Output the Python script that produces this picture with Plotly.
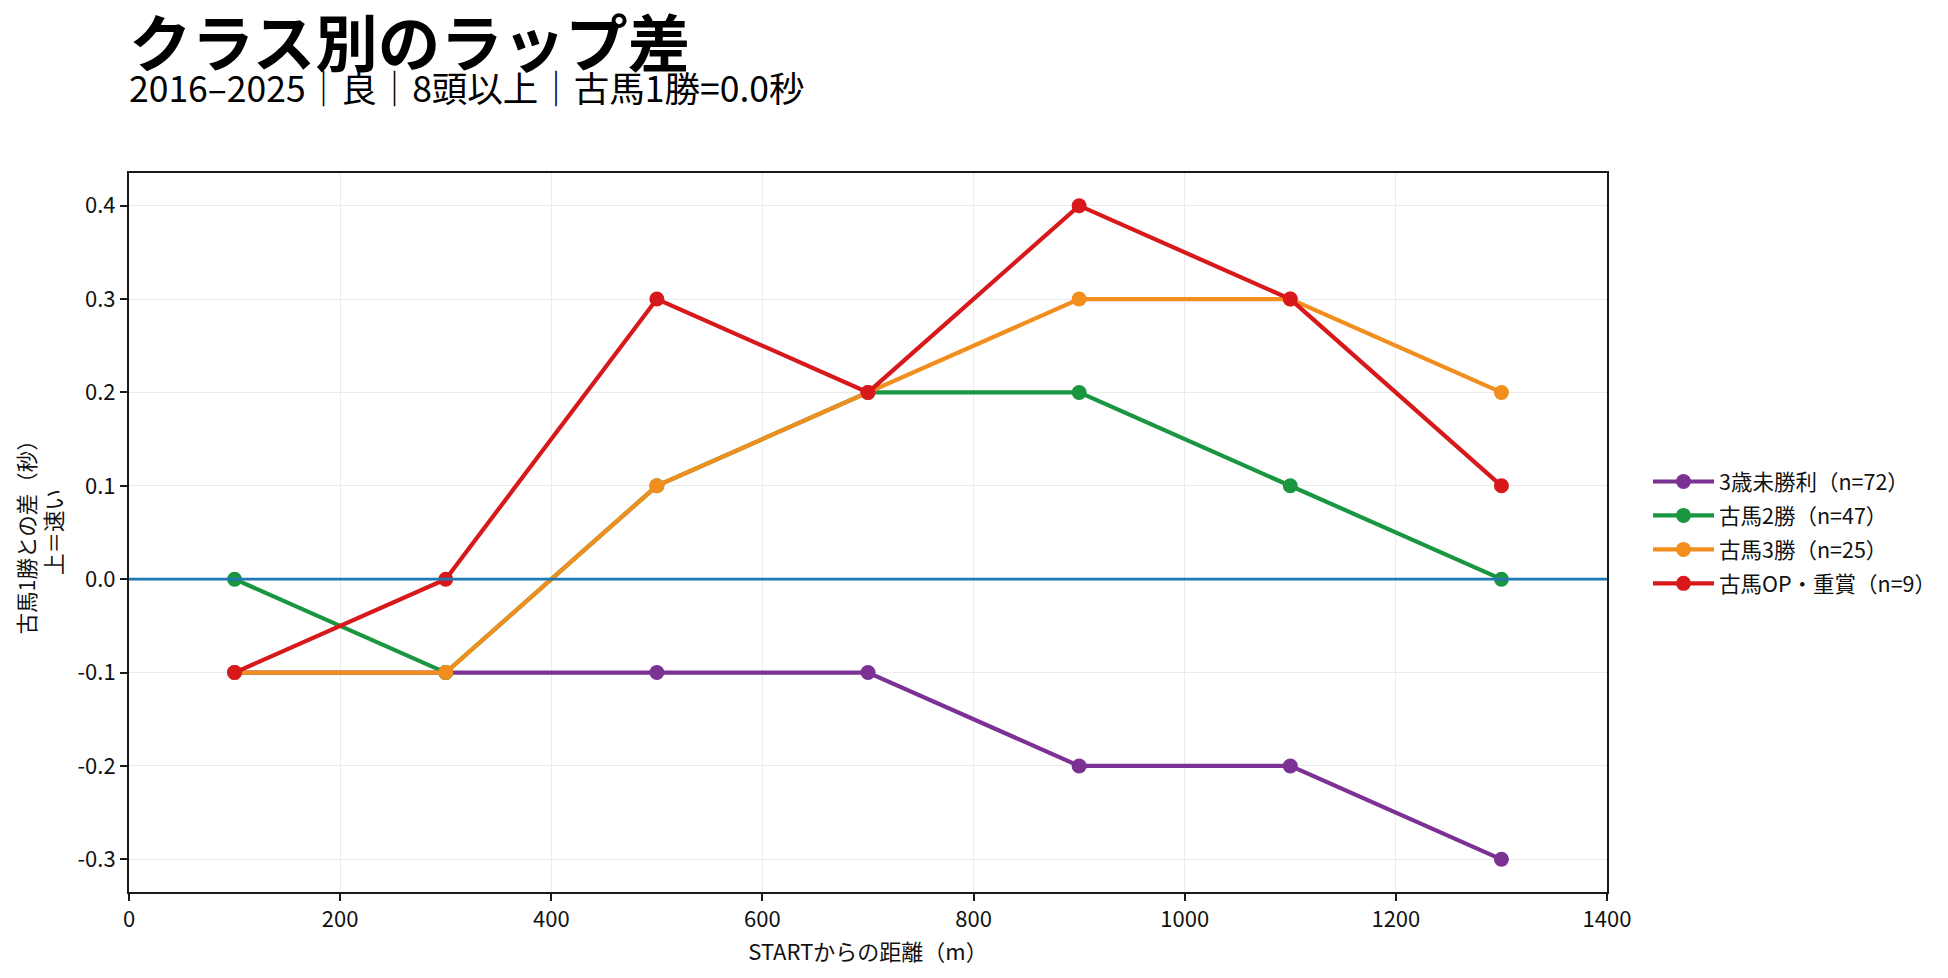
import plotly.graph_objects as go

distances = [100, 300, 500, 700, 900, 1100, 1300]
series_names = ["3歳未勝利（n=72）", "古馬2勝（n=47）", "古馬3勝（n=25）", "古馬OP・重賞（n=9）"]
maiden3 = [-0.1, -0.1, -0.1, -0.1, -0.2, -0.2, -0.3]
win2 = [0.0, -0.1, 0.1, 0.2, 0.2, 0.1, 0.0]
win3 = [-0.1, -0.1, 0.1, 0.2, 0.3, 0.3, 0.2]
op_graded = [-0.1, 0.0, 0.3, 0.2, 0.4, 0.3, 0.1]
colors = ["#7B3294", "#1A9641", "#F28E1E", "#D7191C"]
x_ticks = [0, 200, 400, 600, 800, 1000, 1200, 1400]
y_ticks = [-0.3, -0.2, -0.1, 0.0, 0.1, 0.2, 0.3, 0.4]

FONT = "Noto Sans CJK JP"
OFF = 8  # browser body margin
W, H = 1948 - OFF, 978 - OFF
L, R, T, B = 129 - OFF, 341, 173 - OFF, 86

fig = go.Figure()
for i, (name, vals, c) in enumerate(zip(series_names, [maiden3, win2, win3, op_graded], colors)):
    fig.add_trace(go.Scatter(x=distances, y=vals, mode="lines+markers", name=name,
                             legendgroup=f"g{i}",
                             line=dict(color=c, width=4.2),
                             marker=dict(color=c, size=15)))

fig.add_hline(y=0, line=dict(color="#1F77B4", width=2.8), layer="above")

axis_common = dict(showline=True, linecolor="#1a1a1a", linewidth=2, mirror=True,
                   ticks="outside", ticklen=7, tickwidth=2, tickcolor="#1a1a1a",
                   showgrid=True, gridcolor="#ebebeb", gridwidth=1.2, zeroline=False,
                   tickfont=dict(family=FONT, size=22, color="#111"))

fig.update_xaxes(range=[0, 1400], tickvals=x_ticks, ticktext=[str(v) for v in x_ticks],
                 title=dict(text="STARTからの距離（m）", font=dict(family=FONT, size=22, color="#111"), standoff=12),
                 **axis_common)
fig.update_yaxes(range=[-0.335, 0.435], tickvals=y_ticks, ticktext=[f"{v:.1f}" for v in y_ticks],
                 **axis_common)

pw = W - L - R
ph = H - T - B

def px_x(fx):
    return (fx - L) / pw

def px_y(fy):
    return 1 + (T - fy) / ph

fig.add_annotation(text="古馬1勝との差（秒）<br>上＝速い", textangle=-90, xref="paper", yref="paper",
                   x=px_x(31), y=0.5, xanchor="center", yanchor="middle", showarrow=False,
                   font=dict(family=FONT, size=21.5, color="#111"))

fig.add_annotation(text="<b>クラス別のラップ差</b>", xref="paper", yref="paper",
                   x=px_x(119), y=px_y(79), xanchor="left", yanchor="bottom", showarrow=False,
                   font=dict(family=FONT, size=62.5, color="#000"))
fig.add_annotation(text="2016–2025｜良｜8頭以上｜古馬1勝=0.0秒", xref="paper", yref="paper",
                   x=px_x(119), y=px_y(106.5), xanchor="left", yanchor="bottom", showarrow=False,
                   font=dict(family=FONT, size=35.5, color="#000"))

fig.update_layout(width=W, height=H, margin=dict(l=L, r=R, t=T, b=B, autoexpand=False),
                  paper_bgcolor="white", plot_bgcolor="white",
                  font=dict(family=FONT, color="#111"),
                  legend=dict(x=px_x(1640), y=0.5, xanchor="left", yanchor="middle",
                              font=dict(family=FONT, size=21.5, color="#111"),
                              bgcolor="rgba(0,0,0,0)", tracegroupgap=3, itemwidth=61),
                  showlegend=True)

fig.write_html("out.html")
